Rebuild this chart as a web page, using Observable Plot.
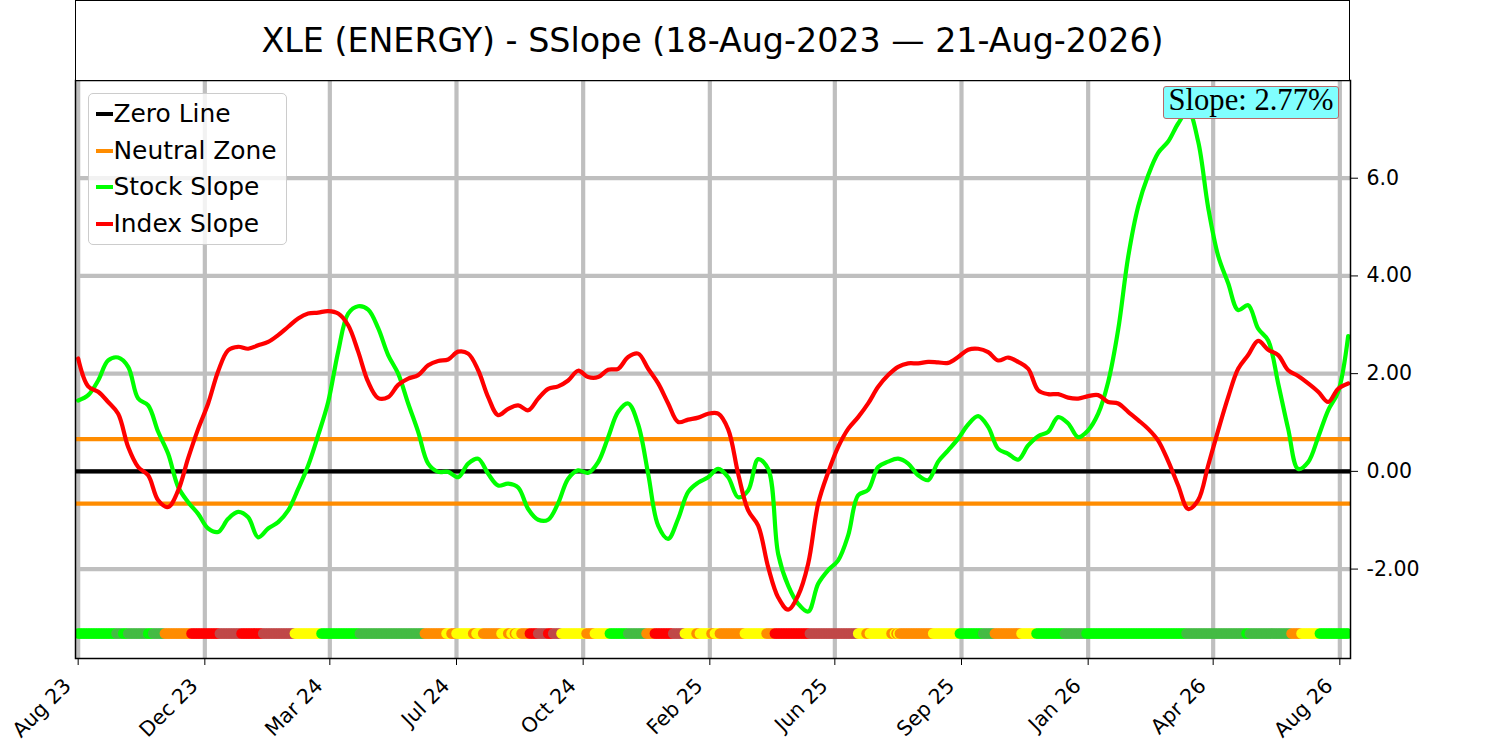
<!DOCTYPE html>
<html>
<head>
<meta charset="utf-8">
<script src="https://cdn.jsdelivr.net/npm/d3@7"></script>
<script src="https://cdn.jsdelivr.net/npm/@observablehq/plot@0.6"></script>
<style>
  body { margin: 0; background: #fff; font-family: "DejaVu Sans", sans-serif; }
  #wrap { position: relative; width: 1500px; height: 741px; overflow: hidden; }
  #title { position: absolute; left: 75px; top: 0; width: 1275px; height: 81px; box-sizing: border-box;
           border: 1.5px solid #000; background: #fff; display: flex; align-items: center; justify-content: center;
           font-size: 33.3px; color: #000; white-space: nowrap; }
  #legend { position: absolute; left: 88px; top: 93px; width: 199px; height: 152px; box-sizing: border-box;
            border: 1.3px solid #cccccc; border-radius: 5px; background: rgba(255,255,255,0.8); }
  .row { position: absolute; left: 0; height: 30px; line-height: 30px; font-size: 24.9px; color: #000; white-space: nowrap; }
  .row .h { position: absolute; left: 7px; top: 13px; width: 17px; height: 4.2px; }
  .row .t { position: absolute; left: 24.5px; top: 0; }
  #slope { position: absolute; left: 1163px; top: 86px; width: 176px; height: 33px; box-sizing: border-box;
           background: #80ffff; border: 1.5px solid #b86a6a; border-radius: 3px;
           font-family: "Liberation Serif", "Times New Roman", serif; font-size: 30.6px; line-height: 27px;
           text-align: center; color: #000; white-space: nowrap; }
</style>
</head>
<body>
<div id="wrap">
  <div id="chart"></div>
  <div id="title"></div>
  <div id="legend"></div>
  <div id="slope"></div>
</div>
<script>
// ---- data ----
const ticker = "XLE";
const sector = "ENERGY";
const startDate = "18-Aug-2023";
const endDate = "21-Aug-2026";
const sampleStep = 6; // trading days between samples

const stockSlope = [
  1.45, 1.56, 1.86, 2.27, 2.33, 2.14, 1.49, 1.35, 0.81, 0.36,
  -0.32, -0.63, -0.87, -1.17, -1.24, -0.97, -0.83, -0.94, -1.35, -1.17,
  -1.04, -0.80, -0.36, 0.12, 0.74, 1.42, 2.45, 3.23, 3.38, 3.31,
  2.93, 2.38, 2.00, 1.39, 0.81, 0.16, -0.01, -0.01, -0.12, 0.16,
  0.26, -0.05, -0.29, -0.25,
  -0.33, -0.77, -0.99, -0.99, -0.65, -0.15, 0.02, -0.03, 0.19, 0.70,
  1.22, 1.39, 0.96, -0.05, -1.11, -1.38, -0.97, -0.42, -0.23, -0.12,
  0.05, -0.12, -0.53, -0.39, 0.25, 0.05, -1.69, -2.34, -2.71, -2.87,
  -2.30, -2.02, -1.82, -1.31, -0.49, -0.38, 0.09, 0.20, 0.26, 0.16,
  -0.08, -0.18,
  0.20, 0.43, 0.67, 0.96, 1.13, 0.91, 0.46, 0.36, 0.24, 0.53,
  0.72, 0.81, 1.11, 0.98, 0.70, 0.84, 1.18, 1.83, 2.90, 4.39,
  5.42, 6.06, 6.52, 6.75, 7.12, 7.38, 6.75, 5.40, 4.41, 3.85,
  3.30, 3.40, 2.92, 2.68, 1.80, 0.87, 0.05, 0.19, 0.70, 1.25,
  1.63, 2.77
];

const indexSlope = [
  2.31, 1.74, 1.63, 1.42, 1.18, 0.50, 0.09, -0.08, -0.59, -0.73,
  -0.39, 0.27, 0.87, 1.39, 2.05, 2.48, 2.55, 2.51, 2.58, 2.65,
  2.79, 2.96, 3.13, 3.23, 3.25, 3.28, 3.23, 2.99, 2.45, 1.83,
  1.50, 1.52, 1.77, 1.90, 1.97, 2.17, 2.26, 2.29, 2.45, 2.41,
  2.07, 1.52, 1.15, 1.28,
  1.35, 1.25, 1.49, 1.69, 1.74, 1.86, 2.06, 1.93, 1.93, 2.08,
  2.10, 2.34, 2.41, 2.10, 1.80, 1.39, 1.01, 1.06, 1.10, 1.18,
  1.18, 0.86, -0.05, -0.80, -1.11, -1.96, -2.58, -2.83, -2.54, -1.89,
  -0.66, -0.02, 0.50, 0.87, 1.11, 1.39, 1.73, 1.97, 2.14, 2.21,
  2.21, 2.24,
  2.23, 2.22, 2.34, 2.49, 2.51, 2.44, 2.27, 2.33, 2.24, 2.10,
  1.66, 1.58, 1.58, 1.51, 1.49, 1.54, 1.56, 1.42, 1.39, 1.22,
  1.05, 0.87, 0.63, 0.21, -0.29, -0.77, -0.59, 0.12, 0.84, 1.52,
  2.10, 2.38, 2.67, 2.49, 2.38, 2.07, 1.95, 1.80, 1.63, 1.42,
  1.69, 1.80
];

const neutralBand = 0.66;
const stripLevel = -3.32;
const lastDay = 762;

// status strip: first trading day of each run and its state
const stripStart = [0, 23, 27, 30, 42, 45, 52, 68, 85, 98, 111, 130, 146, 169, 208, 221, 224, 227, 237, 239,
  243, 254, 258, 260, 262, 263, 266, 271, 276, 282, 285, 290, 305, 310, 319, 330, 341, 346, 357, 364,
  371, 373, 380, 382, 385, 400, 413, 418, 439, 468, 473, 475, 488, 490, 491, 492, 493, 513, 529, 543,
  550, 566, 575, 592, 605, 665, 701, 703, 728, 734, 745];
const stripState = ["G","g","G","g","G","g","O","R","B","R","B","Y","G","g","O","Y","O","Y","O","Y",
  "O","Y","O","Y","O","Y","O","R","B","R","B","Y","O","Y","G","g","O","R","B","Y",
  "O","Y","O","Y","O","Y","O","R","B","Y","O","Y","O","Y","O","Y","O","Y","G","g",
  "O","Y","G","g","G","g","G","g","O","Y","G"];
const stateColors = { G: "#00ff00", g: "#44bb44", O: "#ff8c00", R: "#ff0000", B: "#c04848", Y: "#ffff00" };

const xTickDays = [0, 76, 151, 227, 303, 379, 454, 530, 606, 681, 757];
const xTickLabels = ["Aug 23","Dec 23","Mar 24","Jul 24","Oct 24","Feb 25","Jun 25","Sep 25","Jan 26","Apr 26","Aug 26"];
const yTickVals = [-2, 0, 2, 4, 6];
const yTickLabels = ["-2.00", "0.00", "2.00", "4.00", "6.0"];

const legendItems = [
  { label: "Zero Line", color: "#000000" },
  { label: "Neutral Zone", color: "#ff8c00" },
  { label: "Stock Slope", color: "#00ff00" },
  { label: "Index Slope", color: "#ff0000" }
];

// ---- build tables ----
const stockData = stockSlope.map((v, i) => ({ day: i * sampleStep, v }));
const indexData = indexSlope.map((v, i) => ({ day: i * sampleStep, v }));
const stripData = [];
for (let d = 0; d <= lastDay; d++) {
  let j = 0;
  while (j + 1 < stripStart.length && stripStart[j + 1] <= d) j++;
  stripData.push({ day: d, state: stripState[j] });
}

const lw = 4.2;
const chart = Plot.plot({
  width: 1500,
  height: 741,
  marginTop: 80,
  marginBottom: 83,
  marginLeft: 75,
  marginRight: 150,
  style: { fontFamily: "DejaVu Sans", fontSize: "20.5px", color: "#000", background: "#fff" },
  x: { domain: [-1.6, 763.4], axis: null },
  y: { domain: [-3.83, 8.0], axis: null },
  color: { type: "identity" },
  marks: [
    Plot.gridX(xTickDays, { stroke: "#bfbfbf", strokeOpacity: 1, strokeWidth: lw }),
    Plot.gridY(yTickVals, { stroke: "#bfbfbf", strokeOpacity: 1, strokeWidth: lw }),
    Plot.ruleY([0], { stroke: "#000", strokeWidth: lw }),
    Plot.ruleY([neutralBand, -neutralBand], { stroke: "#ff8c00", strokeWidth: lw }),
    Plot.line(stockData, { x: "day", y: "v", stroke: "#00ff00", strokeWidth: lw, curve: "catmull-rom" }),
    Plot.line(indexData, { x: "day", y: "v", stroke: "#ff0000", strokeWidth: lw, curve: "catmull-rom" }),
    Plot.dot(stripData, { x: "day", y: () => stripLevel, r: 5.25, fill: d => stateColors[d.state], stroke: null, clip: true }),
    Plot.frame({ stroke: "#000", strokeWidth: 1.5 }),
    // tick marks
    Plot.axisX({ ticks: xTickDays, tickFormat: () => "", tickSize: 7, label: null, anchor: "bottom" }),
    // rotated tick labels
    Plot.axisX({ ticks: xTickDays, tickFormat: d => xTickLabels[xTickDays.indexOf(d)], tickRotate: -45,
                 tickSize: 0, tickPadding: 24, dx: -10.5, fontSize: 20.5, label: null, anchor: "bottom" }),
    Plot.axisY({ ticks: yTickVals, tickFormat: d => yTickLabels[yTickVals.indexOf(d)], anchor: "right",
                 tickSize: 7, tickPadding: 9, fontSize: 20.5, label: null })
  ]
});
document.getElementById("chart").appendChild(chart);

document.getElementById("title").textContent =
  `${ticker} (${sector}) - SSlope (${startDate} \u2014 ${endDate})`;

const legend = document.getElementById("legend");
const rowCenters = [20, 56.5, 93, 129.5];
legendItems.forEach((item, i) => {
  const row = document.createElement("div");
  row.className = "row";
  row.style.top = (rowCenters[i] - 15) + "px";
  const h = document.createElement("span");
  h.className = "h";
  h.style.background = item.color;
  const t = document.createElement("span");
  t.className = "t";
  t.textContent = item.label;
  row.appendChild(h);
  row.appendChild(t);
  legend.appendChild(row);
});

document.getElementById("slope").textContent = `Slope: ${stockSlope[stockSlope.length - 1].toFixed(2)}%`;
</script>
</body>
</html>
